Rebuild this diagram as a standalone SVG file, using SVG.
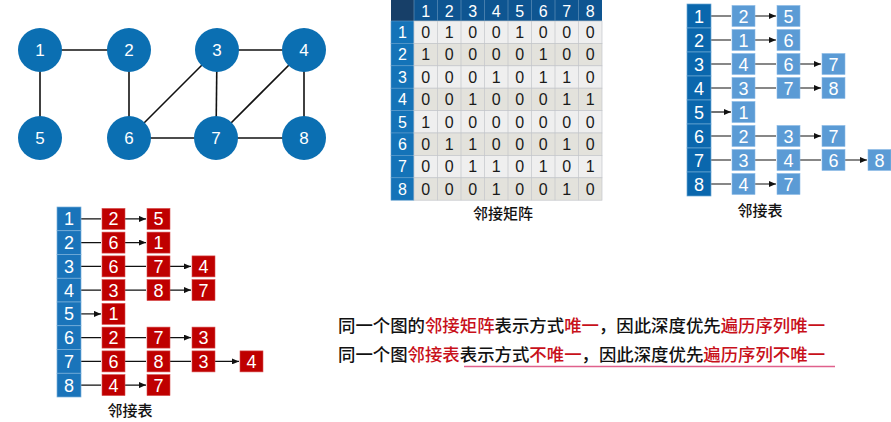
<svg xmlns="http://www.w3.org/2000/svg" width="891" height="422" viewBox="0 0 891 422">
<defs>
<marker id="ah" markerUnits="userSpaceOnUse" markerWidth="7" markerHeight="6" refX="7" refY="3" orient="auto"><path d="M0,0 L7,3 L0,6 z" fill="#111"/></marker>
<style>
.edge{stroke:#111;stroke-width:1.6;fill:none}
.gn{fill:#0b6fb2}
.gt{fill:#fff;font-family:"Liberation Sans",Arial,sans-serif;font-size:17px;text-anchor:middle}
.mh{fill:#0e5591}
.mc{fill:#173f68}
.mr{fill:#1473b8;stroke:#5d9ccc;stroke-width:0.6}
.la{fill:#efefef;stroke:#c3c6ca;stroke-width:0.7}
.lb{fill:#e3e2dc;stroke:#c3c6ca;stroke-width:0.7}
.wt{fill:#fff;font-family:"Liberation Sans",Arial,sans-serif;font-size:16px;text-anchor:middle}
.lt{fill:#fff;font-family:"Liberation Sans",Arial,sans-serif;font-size:18px;text-anchor:middle}
.dt{fill:#1a1a1a;font-family:"Liberation Sans",Arial,sans-serif;font-size:16px;text-anchor:middle}
.hd{fill:#0a67ad;stroke:#6aa6d4;stroke-width:0.7}
.hd2{fill:#1a74ba;stroke:#7ab0da;stroke-width:0.7}
.bb{fill:#5b9bd5;stroke:#8cbbe6;stroke-width:0.6}
.rb{fill:#bf0000;stroke:#d85050;stroke-width:0.6}
.arr{stroke:#111;stroke-width:1.2;fill:none;marker-end:url(#ah)}
.cap{fill:#111;font-family:"Noto Sans CJK SC","Noto Sans",sans-serif;font-size:15px;text-anchor:middle;font-weight:500}
.note{fill:#111;font-family:"Noto Sans CJK SC",sans-serif;font-size:17.4px;font-weight:500}
.red{fill:#c8101a}
</style>
</defs>

<!-- graph edges -->
<g id="graph-edges">
<line class="edge" x1="40" y1="50" x2="129" y2="50"/>
<line class="edge" x1="40" y1="50" x2="40" y2="138"/>
<line class="edge" x1="129" y1="50" x2="129" y2="138"/>
<line class="edge" x1="217" y1="50" x2="129" y2="138"/>
<line class="edge" x1="217" y1="50" x2="304" y2="50"/>
<line class="edge" x1="217" y1="50" x2="216" y2="138"/>
<line class="edge" x1="304" y1="50" x2="216" y2="138"/>
<line class="edge" x1="304" y1="50" x2="304" y2="138"/>
<line class="edge" x1="129" y1="138" x2="216" y2="138"/>
<line class="edge" x1="216" y1="138" x2="304" y2="138"/>
</g>
<g id="g1"><circle class="gn" cx="40" cy="50" r="22"/><text class="gt" x="40" y="56">1</text></g>
<g id="g2"><circle class="gn" cx="129" cy="50" r="22"/><text class="gt" x="129" y="56">2</text></g>
<g id="g3"><circle class="gn" cx="217" cy="50" r="22"/><text class="gt" x="217" y="56">3</text></g>
<g id="g4"><circle class="gn" cx="304" cy="50" r="22"/><text class="gt" x="304" y="56">4</text></g>
<g id="g5"><circle class="gn" cx="40" cy="138" r="22"/><text class="gt" x="40" y="144">5</text></g>
<g id="g6"><circle class="gn" cx="129" cy="138" r="22"/><text class="gt" x="129" y="144">6</text></g>
<g id="g7"><circle class="gn" cx="216" cy="138" r="22"/><text class="gt" x="216" y="144">7</text></g>
<g id="g8"><circle class="gn" cx="304" cy="138" r="22"/><text class="gt" x="304" y="144">8</text></g>

<!-- adjacency matrix -->
<g id="matrix">
<rect class="mc" x="391" y="0" width="23" height="21"/>
<rect class="mh" x="414" y="0" width="188" height="21"/>
<g class="wt">
<text x="425.75" y="17">1</text><text x="449.25" y="17">2</text><text x="472.75" y="17">3</text><text x="496.25" y="17">4</text><text x="519.75" y="17">5</text><text x="543.25" y="17">6</text><text x="566.75" y="17">7</text><text x="590.25" y="17">8</text>
</g>
<g id="mrows">
<rect class="mr" x="391" y="21" width="23" height="22.4"/>
<rect class="mr" x="391" y="43.4" width="23" height="22.4"/>
<rect class="mr" x="391" y="65.8" width="23" height="22.4"/>
<rect class="mr" x="391" y="88.2" width="23" height="22.4"/>
<rect class="mr" x="391" y="110.6" width="23" height="22.4"/>
<rect class="mr" x="391" y="133" width="23" height="22.4"/>
<rect class="mr" x="391" y="155.4" width="23" height="22.4"/>
<rect class="mr" x="391" y="177.8" width="23" height="22.4"/>
</g>
<g>
<rect class="la" x="414" y="21" width="188" height="22.4"/>
<rect class="lb" x="414" y="43.4" width="188" height="22.4"/>
<rect class="la" x="414" y="65.8" width="188" height="22.4"/>
<rect class="lb" x="414" y="88.2" width="188" height="22.4"/>
<rect class="la" x="414" y="110.6" width="188" height="22.4"/>
<rect class="lb" x="414" y="133" width="188" height="22.4"/>
<rect class="la" x="414" y="155.4" width="188" height="22.4"/>
<rect class="lb" x="414" y="177.8" width="188" height="22.4"/>
<path d="M437.5,21V200.2M461,21V200.2M484.5,21V200.2M508,21V200.2M531.5,21V200.2M555,21V200.2M578.5,21V200.2" stroke="#c3c6ca" stroke-width="0.7"/>
<path d="M414,0V21M437.5,0V21M461,0V21M484.5,0V21M508,0V21M531.5,0V21M555,0V21M578.5,0V21" stroke="#5f8fb8" stroke-width="0.7"/>
</g>
<g class="wt">
<text x="402.5" y="38">1</text><text x="402.5" y="60.4">2</text><text x="402.5" y="82.8">3</text><text x="402.5" y="105.2">4</text><text x="402.5" y="127.6">5</text><text x="402.5" y="150">6</text><text x="402.5" y="172.4">7</text><text x="402.5" y="194.8">8</text>
</g>
<g class="dt">
<text y="38"><tspan x="425.75">0</tspan><tspan x="449.25">1</tspan><tspan x="472.75">0</tspan><tspan x="496.25">0</tspan><tspan x="519.75">1</tspan><tspan x="543.25">0</tspan><tspan x="566.75">0</tspan><tspan x="590.25">0</tspan></text>
<text y="60.4"><tspan x="425.75">1</tspan><tspan x="449.25">0</tspan><tspan x="472.75">0</tspan><tspan x="496.25">0</tspan><tspan x="519.75">0</tspan><tspan x="543.25">1</tspan><tspan x="566.75">0</tspan><tspan x="590.25">0</tspan></text>
<text y="82.8"><tspan x="425.75">0</tspan><tspan x="449.25">0</tspan><tspan x="472.75">0</tspan><tspan x="496.25">1</tspan><tspan x="519.75">0</tspan><tspan x="543.25">1</tspan><tspan x="566.75">1</tspan><tspan x="590.25">0</tspan></text>
<text y="105.2"><tspan x="425.75">0</tspan><tspan x="449.25">0</tspan><tspan x="472.75">1</tspan><tspan x="496.25">0</tspan><tspan x="519.75">0</tspan><tspan x="543.25">0</tspan><tspan x="566.75">1</tspan><tspan x="590.25">1</tspan></text>
<text y="127.6"><tspan x="425.75">1</tspan><tspan x="449.25">0</tspan><tspan x="472.75">0</tspan><tspan x="496.25">0</tspan><tspan x="519.75">0</tspan><tspan x="543.25">0</tspan><tspan x="566.75">0</tspan><tspan x="590.25">0</tspan></text>
<text y="150"><tspan x="425.75">0</tspan><tspan x="449.25">1</tspan><tspan x="472.75">1</tspan><tspan x="496.25">0</tspan><tspan x="519.75">0</tspan><tspan x="543.25">0</tspan><tspan x="566.75">1</tspan><tspan x="590.25">0</tspan></text>
<text y="172.4"><tspan x="425.75">0</tspan><tspan x="449.25">0</tspan><tspan x="472.75">1</tspan><tspan x="496.25">1</tspan><tspan x="519.75">0</tspan><tspan x="543.25">1</tspan><tspan x="566.75">0</tspan><tspan x="590.25">1</tspan></text>
<text y="194.8"><tspan x="425.75">0</tspan><tspan x="449.25">0</tspan><tspan x="472.75">0</tspan><tspan x="496.25">1</tspan><tspan x="519.75">0</tspan><tspan x="543.25">0</tspan><tspan x="566.75">1</tspan><tspan x="590.25">0</tspan></text>
</g>
<text class="cap" x="503" y="219">邻接矩阵</text>
</g>

<!-- top-right adjacency list -->
<g id="list-blue">
<g id="list-blue-arrows">
<path class="arr" d="M711,16H731M755,16H776"/>
<path class="arr" d="M711,40H731M755,40H776"/>
<path class="arr" d="M711,64H731M755,64H776M800,64H821"/>
<path class="arr" d="M711,88H731M755,88H776M800,88H821"/>
<path class="arr" d="M711,112H731"/>
<path class="arr" d="M711,136H731M755,136H776M800,136H821"/>
<path class="arr" d="M711,160H731M755,160H776M800,160H821M845,160H867"/>
<path class="arr" d="M711,184H731M755,184H776"/>
</g>
<g id="list-blue-heads">
<rect class="hd" x="687" y="4" width="24" height="24"/><rect class="hd" x="687" y="28" width="24" height="24"/><rect class="hd" x="687" y="52" width="24" height="24"/><rect class="hd" x="687" y="76" width="24" height="24"/><rect class="hd" x="687" y="100" width="24" height="24"/><rect class="hd" x="687" y="124" width="24" height="24"/><rect class="hd" x="687" y="148" width="24" height="24"/><rect class="hd" x="687" y="172" width="24" height="24"/>
<g class="lt"><text x="699" y="22.5">1</text><text x="699" y="46.5">2</text><text x="699" y="70.5">3</text><text x="699" y="94.5">4</text><text x="699" y="118.5">5</text><text x="699" y="142.5">6</text><text x="699" y="166.5">7</text><text x="699" y="190.5">8</text></g>
</g>
<g id="list-blue-nodes">
<rect class="bb" x="732" y="5.5" width="23" height="21"/><rect class="bb" x="777" y="5.5" width="23" height="21"/>
<rect class="bb" x="732" y="29.5" width="23" height="21"/><rect class="bb" x="777" y="29.5" width="23" height="21"/>
<rect class="bb" x="732" y="53.5" width="23" height="21"/><rect class="bb" x="777" y="53.5" width="23" height="21"/><rect class="bb" x="822" y="53.5" width="23" height="21"/>
<rect class="bb" x="732" y="77.5" width="23" height="21"/><rect class="bb" x="777" y="77.5" width="23" height="21"/><rect class="bb" x="822" y="77.5" width="23" height="21"/>
<rect class="bb" x="732" y="101.5" width="23" height="21"/>
<rect class="bb" x="732" y="125.5" width="23" height="21"/><rect class="bb" x="777" y="125.5" width="23" height="21"/><rect class="bb" x="822" y="125.5" width="23" height="21"/>
<rect class="bb" x="732" y="149.5" width="23" height="21"/><rect class="bb" x="777" y="149.5" width="23" height="21"/><rect class="bb" x="822" y="149.5" width="23" height="21"/><rect class="bb" x="868" y="149.5" width="23" height="21"/>
<rect class="bb" x="732" y="173.5" width="23" height="21"/><rect class="bb" x="777" y="173.5" width="23" height="21"/>
<g class="lt">
<text x="743.5" y="22.5">2</text><text x="788.5" y="22.5">5</text>
<text x="743.5" y="46.5">1</text><text x="788.5" y="46.5">6</text>
<text x="743.5" y="70.5">4</text><text x="788.5" y="70.5">6</text><text x="833.5" y="70.5">7</text>
<text x="743.5" y="94.5">3</text><text x="788.5" y="94.5">7</text><text x="833.5" y="94.5">8</text>
<text x="743.5" y="118.5">1</text>
<text x="743.5" y="142.5">2</text><text x="788.5" y="142.5">3</text><text x="833.5" y="142.5">7</text>
<text x="743.5" y="166.5">3</text><text x="788.5" y="166.5">4</text><text x="833.5" y="166.5">6</text><text x="879.5" y="166.5">8</text>
<text x="743.5" y="190.5">4</text><text x="788.5" y="190.5">7</text>
</g>
</g>
<text class="cap" x="760" y="216">邻接表</text>
</g>

<!-- bottom-left adjacency list -->
<g id="list-red">
<g id="list-red-arrows">
<path class="arr" d="M81,218.9H101M125,218.9H146"/>
<path class="arr" d="M81,242.6H101M125,242.6H146"/>
<path class="arr" d="M81,266.4H101M125,266.4H146M170,266.4H191"/>
<path class="arr" d="M81,290.1H101M125,290.1H146M170,290.1H191"/>
<path class="arr" d="M81,313.9H101"/>
<path class="arr" d="M81,337.6H101M125,337.6H146M170,337.6H191"/>
<path class="arr" d="M81,361.4H101M125,361.4H146M170,361.4H191M215,361.4H239"/>
<path class="arr" d="M81,385.1H101M125,385.1H146"/>
</g>
<g id="list-red-heads">
<rect class="hd2" x="57" y="207" width="24" height="23.75"/><rect class="hd2" x="57" y="230.75" width="24" height="23.75"/><rect class="hd2" x="57" y="254.5" width="24" height="23.75"/><rect class="hd2" x="57" y="278.25" width="24" height="23.75"/><rect class="hd2" x="57" y="302" width="24" height="23.75"/><rect class="hd2" x="57" y="325.75" width="24" height="23.75"/><rect class="hd2" x="57" y="349.5" width="24" height="23.75"/><rect class="hd2" x="57" y="373.25" width="24" height="23.75"/>
<g class="lt"><text x="69" y="225.4">1</text><text x="69" y="249.1">2</text><text x="69" y="272.9">3</text><text x="69" y="296.6">4</text><text x="69" y="320.4">5</text><text x="69" y="344.1">6</text><text x="69" y="367.9">7</text><text x="69" y="391.6">8</text></g>
</g>
<g id="list-red-nodes">
<rect class="rb" x="102" y="208.4" width="23" height="21"/><rect class="rb" x="147" y="208.4" width="23" height="21"/>
<rect class="rb" x="102" y="232.1" width="23" height="21"/><rect class="rb" x="147" y="232.1" width="23" height="21"/>
<rect class="rb" x="102" y="255.9" width="23" height="21"/><rect class="rb" x="147" y="255.9" width="23" height="21"/><rect class="rb" x="192" y="255.9" width="23" height="21"/>
<rect class="rb" x="102" y="279.6" width="23" height="21"/><rect class="rb" x="147" y="279.6" width="23" height="21"/><rect class="rb" x="192" y="279.6" width="23" height="21"/>
<rect class="rb" x="102" y="303.4" width="23" height="21"/>
<rect class="rb" x="102" y="327.1" width="23" height="21"/><rect class="rb" x="147" y="327.1" width="23" height="21"/><rect class="rb" x="192" y="327.1" width="23" height="21"/>
<rect class="rb" x="102" y="350.9" width="23" height="21"/><rect class="rb" x="147" y="350.9" width="23" height="21"/><rect class="rb" x="192" y="350.9" width="23" height="21"/><rect class="rb" x="240" y="350.9" width="23" height="21"/>
<rect class="rb" x="102" y="374.6" width="23" height="21"/><rect class="rb" x="147" y="374.6" width="23" height="21"/>
<g class="lt">
<text x="113.5" y="225.4">2</text><text x="158.5" y="225.4">5</text>
<text x="113.5" y="249.1">6</text><text x="158.5" y="249.1">1</text>
<text x="113.5" y="272.9">6</text><text x="158.5" y="272.9">7</text><text x="203.5" y="272.9">4</text>
<text x="113.5" y="296.6">3</text><text x="158.5" y="296.6">8</text><text x="203.5" y="296.6">7</text>
<text x="113.5" y="320.4">1</text>
<text x="113.5" y="344.1">2</text><text x="158.5" y="344.1">7</text><text x="203.5" y="344.1">3</text>
<text x="113.5" y="367.9">6</text><text x="158.5" y="367.9">8</text><text x="203.5" y="367.9">3</text><text x="251.5" y="367.9">4</text>
<text x="113.5" y="391.6">4</text><text x="158.5" y="391.6">7</text>
</g>
</g>
<text class="cap" x="130" y="416">邻接表</text>
</g>

<!-- notes -->
<g id="notes">
<text class="note" x="338" y="332">同一个图的<tspan class="red">邻接矩阵</tspan>表示方式<tspan class="red">唯一</tspan>，因此深度优先<tspan class="red">遍历序列唯一</tspan></text>
<text class="note" x="338" y="361">同一个图<tspan class="red">邻接表</tspan>表示方式<tspan class="red">不唯一</tspan>，因此深度优先<tspan class="red">遍历序列不唯一</tspan></text>
<line x1="464" y1="366.5" x2="835" y2="366.5" stroke="#e0608c" stroke-width="1.6"/>
</g>
</svg>
